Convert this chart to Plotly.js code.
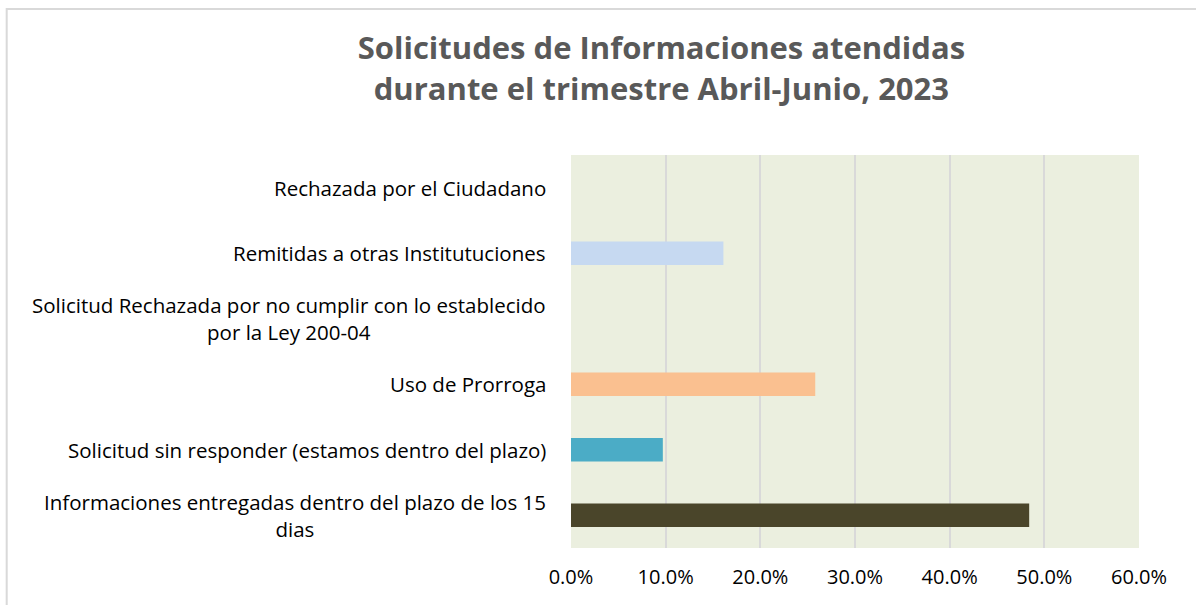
<!DOCTYPE html>
<html>
<head>
<meta charset="utf-8">
<script src="https://cdn.plot.ly/plotly-3.0.1.min.js"></script>
<style>html,body{margin:0;padding:0;background:#fff;}#chart{width:1196px;height:605px;}</style>
</head>
<body>
<div id="chart"></div>
<script>
const categories = [
  "Informaciones entregadas dentro del plazo de los 15<br>dias",
  "Solicitud sin responder (estamos dentro del plazo)",
  "Uso de Prorroga",
  "Solicitud Rechazada por no cumplir con lo establecido<br>por la Ley 200-04",
  "Remitidas a otras Institutuciones",
  "Rechazada por el Ciudadano"
];
const values = [0.484, 0.097, 0.258, 0, 0.161, 0];
const barColors = ["#4A452A", "#4BACC6", "#FAC090", "#FCD5B5", "#C6D9F1", "#B7DEE8"];
const xTickVals = [0, 0.1, 0.2, 0.3, 0.4, 0.5, 0.6];
const titleText = "Solicitudes de Informaciones atendidas<br>durante el trimestre Abril-Junio, 2023";

const labelFont = {family: "Open Sans, Liberation Sans, sans-serif", size: 20.5, color: "#000"};

const annotations = categories.map(c => ({
  xref: "paper", yref: "y", x: -0.04, y: c, text: c,
  xanchor: "right", yanchor: "middle", align: "center",
  showarrow: false, font: labelFont
}));

const data = [{
  type: "bar", orientation: "h",
  y: categories, x: values,
  marker: {color: barColors},
  width: 0.36,
  hoverinfo: "x+y"
}];

const layout = {
  width: 1196, height: 605,
  margin: {l: 571, r: 57, t: 155, b: 57},
  paper_bgcolor: "#ffffff",
  plot_bgcolor: "#EBEFDF",
  title: {
    text: titleText,
    x: 0.553, xanchor: "center",
    yref: "container", y: 0.902, yanchor: "middle",
    font: {family: "Open Sans, Liberation Sans, sans-serif", size: 31, color: "#595959", weight: "bold"}
  },
  xaxis: {
    range: [0, 0.6], tickvals: xTickVals, tickformat: ".1%",
    showgrid: true, gridcolor: "#D9D9D9", gridwidth: 2,
    zeroline: false, showline: false, ticks: "",
    tickfont: {family: "Open Sans, Liberation Sans, sans-serif", size: 20, color: "#000"},
    ticklabelstandoff: 15
  },
  yaxis: {
    type: "category", categoryorder: "array", categoryarray: categories,
    showticklabels: false, showgrid: false, zeroline: false, showline: false, ticks: ""
  },
  annotations: annotations,
  shapes: [{
    type: "rect", xref: "paper", yref: "paper",
    x0: -0.9935, x1: 1.2, y0: -0.3, y1: 1.3715,
    line: {color: "#D9D9D9", width: 2}, fillcolor: "rgba(0,0,0,0)", layer: "below"
  }],
  showlegend: false,
  bargap: 0.64
};

Plotly.newPlot("chart", data, layout, {displayModeBar: false, staticPlot: true});
</script>
</body>
</html>
